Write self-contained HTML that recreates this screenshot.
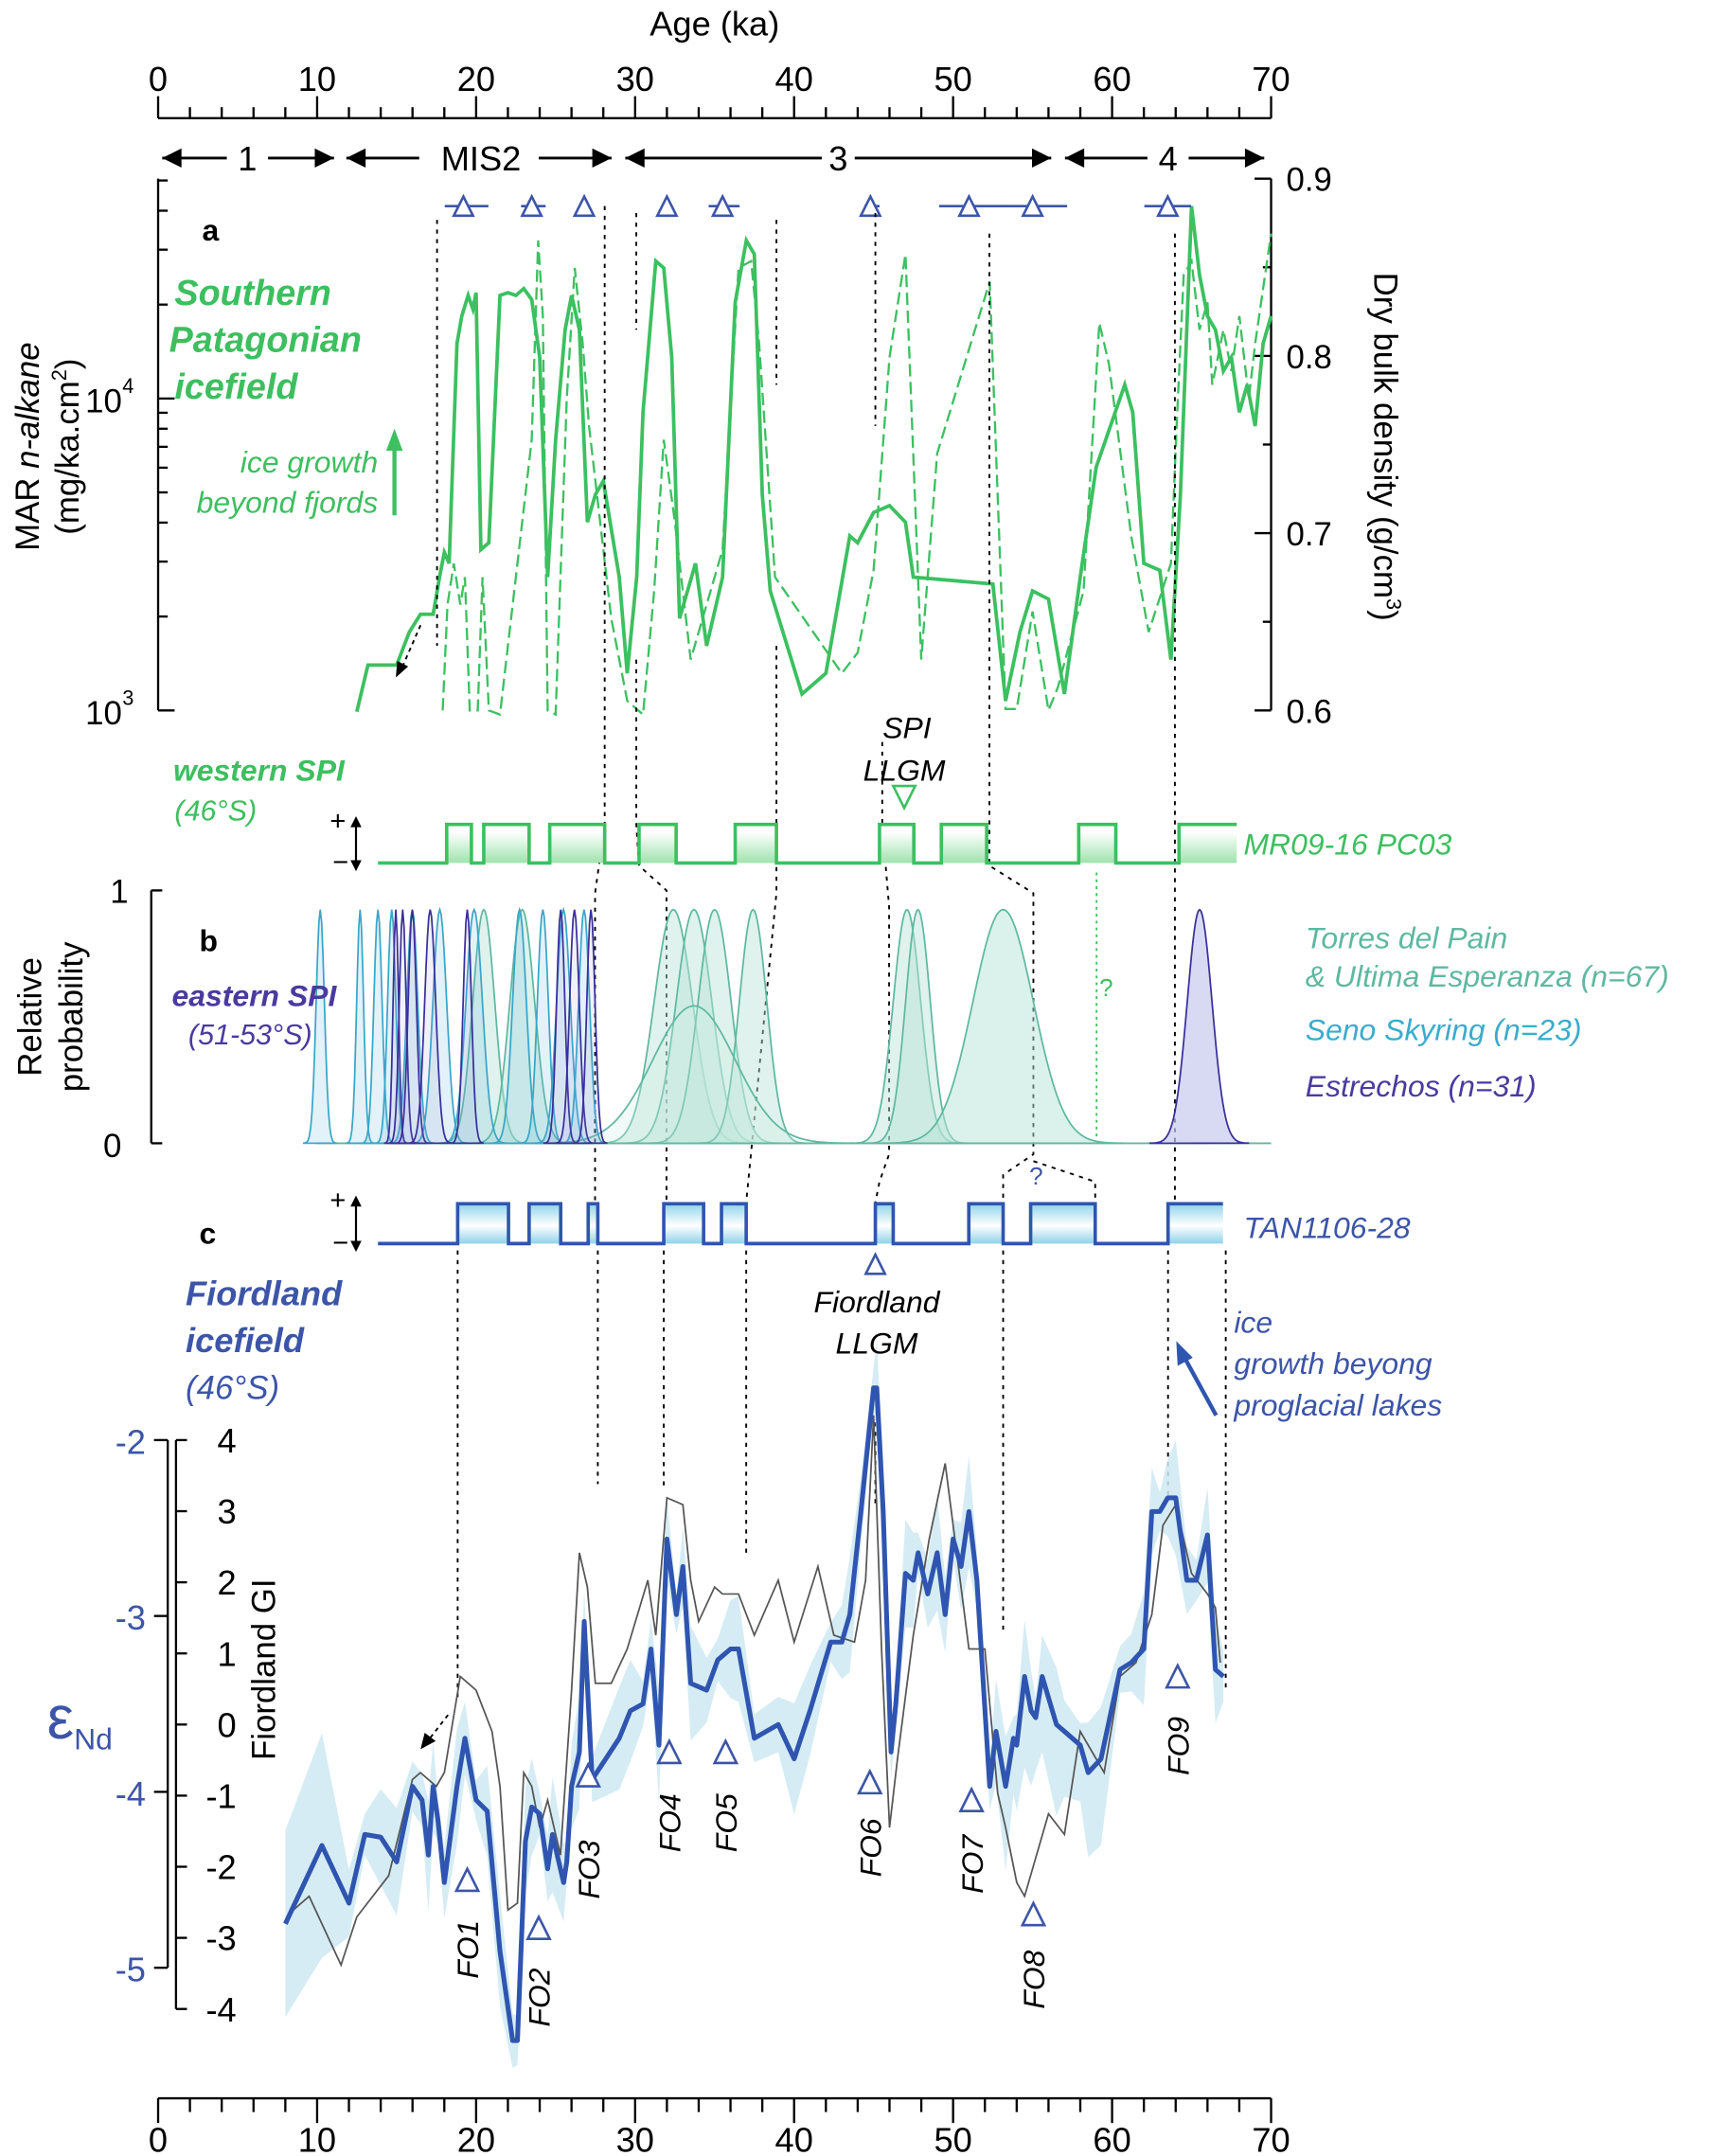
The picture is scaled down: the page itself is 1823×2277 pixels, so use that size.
<!DOCTYPE html>
<html><head><meta charset="utf-8">
<style>
html,body{margin:0;padding:0;background:#fff;}
svg{display:block;font-family:"Liberation Sans",sans-serif;}
</style></head>
<body>
<svg id="s" width="1823" height="2277" viewBox="0 0 1256 1569" xmlns="http://www.w3.org/2000/svg">
<defs>
<linearGradient id="gg" x1="0" y1="0" x2="0" y2="1"><stop offset="0.2" stop-color="#fff"/><stop offset="1" stop-color="#9fe3ac"/></linearGradient>
<linearGradient id="bg" x1="0" y1="0" x2="0" y2="1"><stop offset="0" stop-color="#8fd3ea"/><stop offset="0.55" stop-color="#fff"/><stop offset="1" stop-color="#8fd3ea"/></linearGradient>
</defs>
<g id="g"></g>
<!-- texts -->
<text x="520" y="26" font-size="25" text-anchor="middle">Age (ka)</text>
<g font-size="25" text-anchor="middle" id="topl"></g>
<g font-size="25" text-anchor="middle">
<text x="180" y="124">1</text><text x="350" y="124">MIS2</text><text x="610" y="124">3</text><text x="850" y="124">4</text>
</g>
<text x="147" y="175" font-size="22" font-weight="bold">a</text>
<g fill="#3dbf5f" font-size="26" font-weight="bold" font-style="italic">
<text x="127" y="222">Southern</text><text x="123" y="256">Patagonian</text><text x="127" y="290">icefield</text></g>
<g fill="#3dbf5f" font-size="22" font-style="italic" text-anchor="end">
<text x="275" y="344">ice growth</text><text x="275" y="373">beyond fjords</text></g>
<text transform="translate(28,325) rotate(-90)" font-size="24" text-anchor="middle">MAR <tspan font-style="italic">n-alkane</tspan></text>
<text transform="translate(57,325) rotate(-90)" font-size="24" text-anchor="middle">(mg/ka.cm<tspan font-size="15" dy="-9">2</tspan><tspan dy="9">)</tspan></text>
<text transform="translate(1000,325) rotate(90)" font-size="24" text-anchor="middle">Dry bulk density (g/cm<tspan font-size="15" dy="-9">3</tspan><tspan dy="9">)</tspan></text>
<g font-size="24"><text x="62" y="300">10</text><text x="89" y="286" font-size="15">4</text><text x="62" y="527">10</text><text x="89" y="513" font-size="15">3</text>
<text x="936" y="139">0.9</text><text x="936" y="268">0.8</text><text x="936" y="397">0.7</text><text x="936" y="526">0.6</text></g>
<text x="660" y="537" font-size="22" font-style="italic" text-anchor="middle">SPI</text>
<text x="658" y="568" font-size="22" font-style="italic" text-anchor="middle">LLGM</text>
<g fill="#3dbf5f" font-style="italic" font-size="22"><text x="126" y="568" font-weight="bold">western SPI</text><text x="127" y="597" font-size="21">(46°S)</text>
<text x="905" y="622">MR09-16 PC03</text></g>
<text x="80" y="657" font-size="24">1</text><text x="75" y="842" font-size="24">0</text>
<text transform="translate(30,740) rotate(-90)" font-size="24" text-anchor="middle">Relative</text>
<text transform="translate(60,740) rotate(-90)" font-size="24" text-anchor="middle">probability</text>
<text x="145" y="692" font-size="22" font-weight="bold">b</text>
<g fill="#4a3aa0" font-style="italic" font-size="22"><text x="125" y="732" font-weight="bold">eastern SPI</text><text x="137" y="760" font-size="21">(51-53°S)</text>
<text x="950" y="798">Estrechos (n=31)</text></g>
<g fill="#5fb8a0" font-style="italic" font-size="22"><text x="950" y="690">Torres del Pain</text><text x="950" y="718">&amp; Ultima Esperanza (n=67)</text></g>
<text x="950" y="757" fill="#3aaccd" font-style="italic" font-size="22">Seno Skyring (n=23)</text>
<text x="800" y="725" fill="#3dbf5f" font-size="18">?</text>
<text x="749" y="862" fill="#3c55a8" font-size="18">?</text>
<text x="145" y="905" font-size="22" font-weight="bold">c</text>
<text x="905" y="901" fill="#3c55a8" font-style="italic" font-size="22">TAN1106-28</text>
<g fill="#3c55a8" font-style="italic" font-size="25"><text x="135" y="950" font-weight="bold">Fiordland</text><text x="135" y="984" font-weight="bold">icefield</text><text x="135" y="1018" font-size="24">(46°S)</text></g>
<g font-style="italic" font-size="22" text-anchor="middle"><text x="638" y="955">Fiordland</text><text x="638" y="985">LLGM</text></g>
<g fill="#3c55a8" font-style="italic" font-size="22"><text x="898" y="970">ice</text><text x="898" y="1000">growth beyong</text><text x="898" y="1030">proglacial lakes</text></g>
<g fill="#3c55a8" font-size="25" text-anchor="end"><text x="106" y="1058">-2</text><text x="106" y="1186">-3</text><text x="106" y="1314">-4</text><text x="106" y="1442">-5</text></g>
<text x="58" y="1265" fill="#3c55a8" font-size="44" text-anchor="middle">ε<tspan font-size="22" dy="8">Nd</tspan></text>
<g font-size="25" text-anchor="end" id="gil"></g>
<text transform="translate(200,1215) rotate(-90)" font-size="24" text-anchor="middle">Fiordland GI</text>
<g font-size="25" text-anchor="middle" id="botl"></g>
<g font-style="italic" font-size="22" id="fo"></g>
</svg>
<script>
const NS="http://www.w3.org/2000/svg",G=document.getElementById('g');
const X=a=>115+a*810/70;
function el(t,at,p){const e=document.createElementNS(NS,t);for(const k in at)e.setAttribute(k,at[k]);(p||G).appendChild(e);return e;}
function pl(pts,st,extra){el('polyline',Object.assign({points:pts.map(p=>X(p[0]).toFixed(1)+','+p[1]).join(' '),fill:'none'},st,extra||{}));}
function line(x1,y1,x2,y2,st){el('line',Object.assign({x1,y1,x2,y2},st));}
const K={stroke:'#000','stroke-width':1.6};
// top axis
line(115,86,925,86,K);
for(let a=0;a<=70;a+=2){line(X(a),86,X(a),a%10==0?70:78,K);}
for(let a=0;a<=70;a+=10){const t=el('text',{x:X(a),y:66},document.getElementById('topl'));t.textContent=a;}
line(115,1527,925,1527,K);
for(let a=0;a<=70;a+=2){line(X(a),1527,X(a),a%10==0?1545:1537,K);}
for(let a=0;a<=70;a+=10){const t=el('text',{x:X(a),y:1566},document.getElementById('botl'));t.textContent=a;}
// MIS arrows
function arr(x1,x2){line(x1,115,x2,115,{stroke:'#000','stroke-width':2});}
function head(x,d){el('polygon',{points:`${x},115 ${x-d*14},108 ${x-d*14},122`,fill:'#000'});}
[[118,165,-1],[195,243,1],[252,305,-1],[392,445,1],[455,598,-1],[622,765,1],[775,835,-1],[865,920,1]].forEach(r=>{arr(r[0],r[1]);head(r[2]<0?r[0]:r[1],r[2]);});
// panel a axes
line(115,130,115,517,K);line(925,130,925,517,K);
for(let d=0;d<2;d++)for(let k=1;k<10;k++){const y=517-227*(d+Math.log10(k));if(y<128)break;line(115,y,k==1?127:122,y,K);}
for(let i=0;i<=6;i++){const y=130+i*64.5;line(925,y,i%2==0?913:919,y,K);}
const GR='#3cc060';
const sol=[[12.5,518],[13.2,484],[15,484],[15.8,460],[16.5,447],[17.3,447],[17.7,420],[18,402],[18.3,410],[18.8,250],[19.1,230],[19.5,215],[19.8,225],[20,213],[20.3,400],[20.8,395],[21.5,215],[22,213],[22.5,215],[23,210],[23.5,218],[24,260],[24.5,420],[25,320],[25.6,240],[26,215],[26.5,240],[27,380],[27.5,360],[28,350],[29,420],[29.5,490],[30.1,420],[30.5,300],[31.3,190],[31.8,195],[32.3,260],[32.8,450],[33.8,410],[34.5,470],[35.5,420],[36.3,220],[37,175],[37.5,185],[38,360],[38.5,430],[40.5,505],[42,490],[43.5,390],[44,395],[45,373],[46,368],[47,380],[47.5,420],[52.5,425],[53.3,510],[54.2,460],[55,430],[56,436],[57,505],[58,420],[59,340],[60.8,280],[61.3,300],[62,410],[63,415],[63.7,480],[64.3,360],[65,150],[65.5,200],[66,230],[66.5,240],[67,270],[67.5,260],[68,300],[68.5,280],[69,310],[69.5,250],[70,230]];
pl(sol,{stroke:GR,'stroke-width':2.6});
const das=[[17.9,517],[18.2,440],[18.6,410],[19,440],[19.3,420],[19.6,517],[20.1,517],[20.4,420],[20.8,517],[21.5,520],[23.5,320],[23.9,175],[24.2,230],[24.5,517],[25,520],[25.7,290],[26.2,195],[26.7,250],[27.1,310],[28.5,450],[29.5,510],[30.5,520],[31.2,430],[31.8,320],[32.5,380],[33.5,480],[34.5,440],[35.5,400],[36.5,195],[37.3,190],[37.8,250],[38.8,420],[43,490],[44,475],[45,415],[46,260],[47,185],[48,480],[49,330],[52.3,205],[53.3,516],[54,516],[55,445],[56,517],[56.6,500],[58.2,430],[59.2,235],[59.8,265],[61.2,390],[62.3,460],[63.7,410],[64.1,300],[64.5,200],[65,190],[65.5,240],[66,220],[66.3,280],[67,240],[67.5,270],[68,230],[68.6,290],[69,250],[70,170]];
pl(das,{stroke:GR,'stroke-width':1.6,'stroke-dasharray':'9,4'});
// green arrow
line(287,375,287,325,{stroke:GR,'stroke-width':3});el('polygon',{points:'287,312 281,328 293,328',fill:GR});
// dashed black small arrow
line(306,455,292,487,{stroke:'#000','stroke-width':1.3,'stroke-dasharray':'3,3'});el('polygon',{points:'288,493 289,481 297,485',fill:'#000'});
// blue triangles top
const BL='#3c55a8';
function tri(x,y,s,down){s=s||8;const p=down?`${x-s},${y-s} ${x+s},${y-s} ${x},${y+s}`:`${x},${y-s} ${x-s},${y+s} ${x+s},${y+s}`;el('polygon',{points:p,fill:'#fff',stroke:BL,'stroke-width':1.8});}
[[19.2,18.2,20.6],[23.5,23,24.2],[26.8,26.8,26.8],[32,32,32],[35.5,34.8,36.4],[44.8,44.6,45.2],[51,49.3,53.2],[55,53.5,57],[63.5,62.2,64.8]].forEach(t=>{line(X(t[1])-2,150,X(t[2])+2,150,{stroke:BL,'stroke-width':1.8});tri(X(t[0]),150,7);});
// dotted lines
const D={stroke:'#000','stroke-width':1.3,'stroke-dasharray':'3,4',fill:'none'};
function dp(pts){el('polyline',Object.assign({points:pts.map(p=>p.join(',')).join(' ')},D));}
dp([[318,160],[318,470]]);dp([[440,150],[440,600],[433,650],[433,875]]);
dp([[463,155],[463,240]]);dp([[463,480],[463,600],[465,630],[485,648],[485,875]]);
dp([[565,160],[565,280]]);dp([[565,470],[565,600],[565,650],[543,875]]);
dp([[637,155],[637,310]]);dp([[642,540],[642,600],[647,660],[647,840],[640,860],[637,875]]);
dp([[720,170],[720,600],[720,630],[752,650],[752,840],[730,855],[730,875]]);
dp([[752,845],[797,860],[797,875]]);
dp([[855,170],[855,600],[855,875]]);
el('line',{x1:798,y1:635,x2:798,y2:830,stroke:GR,'stroke-width':1.3,'stroke-dasharray':'2,3'});
dp([[333,910],[333,1235]]);dp([[435,910],[435,1080]]);dp([[483,910],[483,1085]]);dp([[543,910],[543,1130]]);
dp([[637,1035],[637,1095]]);dp([[730,910],[730,1190]]);dp([[850,910],[850,1090]]);dp([[892,910],[892,1230]]);
// SPI LLGM triangle
el('polygon',{points:'650,572 666,572 658,588',fill:'#fff',stroke:GR,'stroke-width':1.8});
// step bars
function steps(xs,top,bot,col,grad,x0,x1){let d=`M${x0},${bot}`;let hi=false;xs.forEach(x=>{d+=`L${x},${hi?top:bot}L${x},${hi?bot:top}`;hi=!hi;});d+=`L${x1},${hi?top:bot}`;
el('path',{d:d+`L${x1},${bot}Z`,fill:grad,stroke:'none'});el('path',{d,fill:'none',stroke:col,'stroke-width':2.5});}
steps([325,343,352,385,400,440,465,492,535,565,640,665,685,718,785,812,858],600,628,GR,'url(#gg)',275,900);
steps([333,370,385,408,428,435,483,512,525,543,637,650,705,730,750,797,850],876,905,'#2f55b0','url(#bg)',275,890);
// +- symbols
[[614,600,628],[890,876,905]].forEach(r=>{const t1=el('text',{x:240,y:r[1]+4,'font-size':20});t1.textContent='+';const t2=el('text',{x:242,y:r[2]+6,'font-size':20});t2.textContent='−';
line(259,r[1]-2,259,r[2]+2,{stroke:'#000','stroke-width':1.5});el('polygon',{points:`259,${r[1]-6} 255,${r[1]+2} 263,${r[1]+2}`});el('polygon',{points:`259,${r[2]+6} 255,${r[2]-2} 263,${r[2]-2}`});});
// panel b
line(110,648,110,832,K);line(110,648,118,648,K);line(110,832,118,832,K);
function gauss(c,s,h,col,fill,op){let d=`M${c-4*s},832`;for(let x=c-4*s;x<=c+4*s;x+=1){d+=`L${x},${(832-h*Math.exp(-((x-c)**2)/(2*s*s))).toFixed(1)}`;}
el('path',{d:d+'Z',fill:fill,'fill-opacity':op,stroke:col,'stroke-width':1.2});}
line(230,832,925,832,{stroke:'#5fb8a0','stroke-width':1.3});
const T='#5fb8a0',C='#3aa6c9',P='#3a2f9a';
[[352,8],[380,9],[490,14],[505,13],[520,12],[548,10],[660,10],[668,9]].forEach(g=>gauss(g[0],g[1],170,T,'#b7e3d8',0.45));
gauss(730,22,170,T,'#b7e3d8',0.5);gauss(505,30,100,T,'#cfeee6',0.3);
[[233,3],[262,2.5],[275,3],[285,3],[300,4],[320,5],[345,6],[378,5],[395,4],[410,5],[425,4]].forEach(g=>gauss(g[0],g[1],170,C,'#5fb8d8',0.18));
[[288,2],[293,2.5],[300,3],[313,4],[340,3],[408,3],[418,3.5],[430,3]].forEach(g=>gauss(g[0],g[1],170,P,'#8a8fd6',0.12));
gauss(873,9,170,P,'#c8c9ee',0.7);
// panel d axes
line(122,1048,122,1432,K);for(let i=0;i<=3;i++)line(122,1048+128*i,112,1048+128*i,K);
line(128,1048,128,1462,K);for(let i=0;i<=8;i++){const y=1048+51.75*i;line(128,y,136,y,K);const t=el('text',{x:172,y:y+9},document.getElementById('gil'));t.textContent=4-i;}
const blue=[[8,1400],[10.3,1343],[12,1385],[13,1335],[14,1337],[15,1355],[16,1300],[16.6,1310],[17,1350],[17.3,1300],[17.6,1325],[18,1370],[18.8,1300],[19.3,1265],[20,1310],[20.7,1318],[21.5,1420],[22.3,1485],[22.6,1485],[23.1,1340],[23.5,1315],[24,1320],[24.5,1360],[24.8,1335],[25.5,1370],[25.7,1355],[26,1300],[26.5,1275],[26.8,1180],[27.3,1295],[29,1265],[29.7,1245],[30.5,1240],[31,1200],[31.5,1270],[32,1120],[32.6,1175],[33,1140],[33.5,1225],[34.5,1230],[35.2,1208],[36,1200],[36.5,1200],[37.5,1265],[39,1255],[40,1280],[41,1245],[42.3,1195],[43,1195],[43.5,1175],[44.2,1100],[45,1010],[45.2,1010],[45.6,1100],[46.1,1275],[46.4,1240],[47,1145],[47.5,1150],[47.8,1130],[48.4,1160],[49,1130],[49.5,1175],[50,1120],[50.5,1140],[51,1100],[51.5,1150],[52.3,1300],[52.7,1260],[53.3,1300],[53.8,1265],[54,1270],[54.5,1220],[54.9,1245],[55.2,1250],[55.6,1220],[56.5,1255],[57,1260],[58,1270],[58.5,1290],[59.3,1280],[60.5,1215],[61.2,1210],[62,1200],[62.5,1100],[63,1100],[63.5,1090],[64,1090],[64.7,1150],[65.3,1150],[66,1117],[66.5,1215],[67,1220]];
// band
let up=[],lo=[];blue.forEach((p,i)=>{const w=28+14*Math.sin(i*1.7)+ (p[0]<12?40:0);up.push([p[0],p[1]-w]);lo.push([p[0],p[1]+w+ (p[0]>53&&p[0]<60?25:0)]);});
el('polygon',{points:up.concat(lo.reverse()).map(p=>X(p[0]).toFixed(1)+','+p[1]).join(' '),fill:'#cfe9f2','fill-opacity':0.85});
const grey=[[8.5,1390],[9.5,1380],[11.5,1430],[12.5,1395],[14.5,1365],[16,1295],[16.5,1290],[17.5,1300],[18,1290],[19,1220],[20,1230],[21,1260],[21.5,1300],[22,1390],[22.6,1385],[23,1290],[23.5,1300],[24,1330],[24.5,1310],[25.3,1350],[26,1230],[26.5,1130],[27,1155],[27.5,1225],[28.5,1225],[29.5,1200],[30.8,1150],[31.3,1190],[32,1090],[33,1095],[33.5,1150],[34,1180],[35,1155],[35.5,1160],[36.5,1160],[37.5,1190],[39,1150],[40,1195],[41.5,1140],[42.5,1190],[43.8,1195],[44.5,1150],[45,1030],[45.5,1200],[46,1330],[46.5,1280],[47.5,1190],[48.5,1120],[49.5,1065],[50,1110],[51,1200],[52,1200],[52.8,1305],[53.3,1330],[54,1370],[54.5,1380],[55,1360],[56,1320],[57,1335],[58,1260],[59.5,1290],[60.5,1220],[61.5,1210],[62.5,1175],[63.2,1110],[64,1095],[65,1145],[66,1160],[66.5,1170],[66.8,1210]];
pl(grey,{stroke:'#555','stroke-width':1.2});
pl(blue,{stroke:'#2f55b0','stroke-width':3.5,'stroke-linejoin':'round'});
// dotted arrow lower
line(326,1248,312,1266,{stroke:'#000','stroke-width':1.3,'stroke-dasharray':'3,3'});el('polygon',{points:'306,1273 309,1261 317,1267',fill:'#000'});
// blue arrow right
line(885,1030,862,988,{stroke:'#2f55b0','stroke-width':3});el('polygon',{points:'856,976 857,994 868,988',fill:'#2f55b0'});
// FO labels
const fo=[['FO1',340,1440,1368],['FO2',392,1475,1403],['FO3',428,1382,1292],['FO4',487,1348,1275],['FO5',528,1348,1275],['FO6',633,1366,1297],['FO7',707,1378,1310],['FO8',752,1462,1393],['FO9',857,1292,1220]];
fo.forEach(f=>{tri(f[1],f[3],8);const t=el('text',{transform:`translate(${f[1]+8},${f[2]}) rotate(-90)`},document.getElementById('fo'));t.textContent=f[0];});
tri(637,920,7);
</script>
</body></html>
